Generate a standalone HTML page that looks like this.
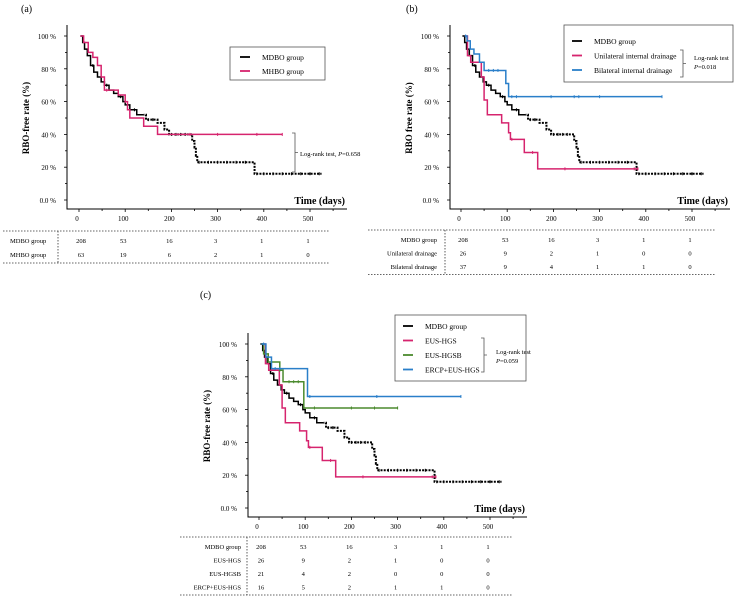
<!DOCTYPE html>
<html><head><meta charset="utf-8"><style>
html,body{margin:0;padding:0;background:#fff;}
svg{display:block;font-family:"Liberation Serif",serif;}
</style></head><body>
<svg id="fig" width="736" height="596" viewBox="0 0 736 596" xmlns="http://www.w3.org/2000/svg"></svg>
<script>
// ---- data ----
const tickDays = [0,100,200,300,400,500];
const tickPcts = [0,20,40,60,80,100];
const tickPctLabels = ["0.0 %","20 %","40 %","60 %","80 %","100 %"];
const mdboDays = [3,8,12,18,25,32,40,48,55,65,75,85,95,100,110,125,145,170,185,195,240,245,250,253,256,375,380,525];
const mdboPcts = [100,96,92,88,82,78,75,72,70,67,65,63,60,58,55,52,49,47,43,40,40,36,32,27,23,23,16,16];
const mdboCens = [30,60,90,120,150,160,200,210,220,230,260,280,300,320,340,360,385,400,420,440,460,480,500,520];
const mhboDays = [3,10,20,30,40,48,55,85,100,105,110,140,170,440];
const mhboPcts = [100,96,90,87,82,75,67,64,60,55,50,45,40,40];
const mhboCens = [60,100,240,300,385,440];
const uniDays = [8,14,21,44,50,57,88,103,107,137,166,383];
const uniPcts = [100,88,84,75,61,52,47,41,37,29,19,19];
const uniCens = [110,155,225,375,383];
const bilDays = [8,13,20,28,40,50,97,103,435];
const bilPcts = [100,97,92,89,84,79,71,63,63];
const bilCens = [10,60,70,80,110,120,195,245,255,300,435];
const hgsbDays = [5,10,20,45,52,97,300];
const hgsbPcts = [100,94,89,84,77,61,61];
const hgsbCens = [45,65,75,85,120,200,250,300];
const ercpDays = [5,15,27,105,437];
const ercpPcts = [100,92,85,68,68];
const ercpCens = [10,35,45,110,255,437];
const tableA = [["MDBO group",[208,53,16,3,1,1]],["MHBO group",[63,19,6,2,1,0]]];
const tableB = [["MDBO group",[208,53,16,3,1,1]],["Unilateral drainage",[26,9,2,1,0,0]],["Bilateral drainage",[37,9,4,1,1,0]]];
const tableC = [["MDBO group",[208,53,16,3,1,1]],["EUS-HGS",[26,9,2,1,0,0]],["EUS-HGSB",[21,4,2,0,0,0]],["ERCP+EUS-HGS",[16,5,2,1,1,0]]];

const NS="http://www.w3.org/2000/svg";
const svg=document.getElementById('fig');
function mk(tag,attrs,parent,txt){const e=document.createElementNS(NS,tag);for(const k in attrs)e.setAttribute(k,attrs[k]);if(txt!==undefined)e.textContent=txt;(parent||svg).appendChild(e);return e;}

const PINK="#d6246e",BLUE="#2a7fc9",GREEN="#4b8a2e";
const SOLID_UNTIL=140;

function panel(cfg){
  const g=mk('g',{});
  
  
  const X=d=>cfg.x0+0.462*d, Y=p=>cfg.y0-1.64*p;
  const lab=mk('text',{x:cfg.labX,y:cfg.labY,'font-size':10},g,cfg.label);
  
  
  const ax=mk('path',{d:`M${cfg.ax} ${cfg.top}V${cfg.bot}H${cfg.right}`,stroke:'#000','stroke-width':1,fill:'none'},g);
  
  
  for(let p=0;p<=100;p+=10){mk('line',{x1:cfg.ax-(p%20?2:3),x2:cfg.ax,y1:Y(p),y2:Y(p),stroke:'#000','stroke-width':0.8},g);}
  tickPcts.forEach((p,i)=>{const t=mk('text',{x:cfg.ax-11,y:Y(p)+3,'font-size':7,'text-anchor':'end'},g,tickPctLabels[i]);
    
    });
  for(let d=0;d<=550;d+=50){mk('line',{x1:X(d),x2:X(d),y1:cfg.bot,y2:cfg.bot+(d%100?2:3),stroke:'#000','stroke-width':0.8},g);}
  tickDays.forEach(d=>{const t=mk('text',{x:X(d)-2,y:cfg.bot+12,'font-size':7,'text-anchor':'middle'},g,String(d));
    
    });
  const yt=mk('text',{transform:`translate(${cfg.ax-38},${Y(50)}) rotate(-90)`,'font-size':9,'font-weight':'bold','text-anchor':'middle'},g,cfg.ytitle);
  
  
  const xt=mk('text',{x:cfg.right-2,y:cfg.bot-5,'font-size':10,'font-weight':'bold','text-anchor':'end'},g,'Time (days)');
  
  
  cfg.series.forEach(s=>{
    let d=`M${X(s.days[0])} ${Y(s.pcts[0])}`;
    for(let i=1;i<s.days.length;i++)d+=`H${X(s.days[i])}V${Y(s.pcts[i])}`;
    if(s.dotted){
      // solid early part (clipped) and dotted later part
      const cid=cfg.name+'-clip';
      const cp=mk('clipPath',{id:cid},g);
      mk('rect',{x:0,y:0,width:X(SOLID_UNTIL),height:596},cp);
      const cid2=cfg.name+'-clip2';
      const cp2=mk('clipPath',{id:cid2},g);
      mk('rect',{x:X(SOLID_UNTIL),y:0,width:736,height:596},cp2);
      const p1=mk('path',{d:d,stroke:s.color,'stroke-width':1.5,fill:'none','clip-path':`url(#${cid})`},g);
      
      
      const p2=mk('path',{d:d,stroke:s.color,'stroke-width':2,fill:'none','stroke-dasharray':'2 1.2','clip-path':`url(#${cid2})`},g);
      
      
    } else {
      const pth=mk('path',{d:d,stroke:s.color,'stroke-width':1.5,fill:'none'},g);
      
      
    }
    s.cens.forEach(c=>{
      let p=s.pcts[0];for(let i=0;i<s.days.length;i++){if(s.days[i]<=c)p=s.pcts[i];}
      const cm=mk('line',{x1:X(c),x2:X(c),y1:Y(p)-1.5,y2:Y(p)+1.5,stroke:s.color,'stroke-width':1},g);
      
      
    });
  });
  const L=cfg.legend;
  const lb=mk('rect',{x:L.x,y:L.y,width:L.w,height:L.h,fill:'#fff',stroke:'#555','stroke-width':0.8},g);
  
  
  cfg.series.forEach((s,i)=>{
    const yy=L.y+L.y0+i*L.dy;
    const ln=mk('line',{x1:L.x+L.lx,x2:L.x+L.lx+10,y1:yy,y2:yy,stroke:s.color,'stroke-width':1.8},g);
    
    
    const t=mk('text',{x:L.x+L.tx,y:yy+3,'font-size':7.5},g,s.label);
    
    
  });
  const R=cfg.rank;
  const br=mk('path',{d:`M${R.bx-3} ${R.y1}H${R.bx}V${R.y2}H${R.bx-3}M${R.bx} ${(R.y1+R.y2)/2}H${R.bx+3}`,stroke:'#555','stroke-width':0.8,fill:'none'},g);
  
  
  R.lines.forEach((ln,i)=>{
    const t=mk('text',{x:R.tx,y:R.ty+i*9,'font-size':6.5},g);
    
    
    ln.forEach(part=>{mk('tspan',part[1]?{'font-style':'italic'}:{},t,part[0]);});
  });
  const T=cfg.table;
  const tg=mk('g',{},g);
  
  
  const bottom=T.top+T.rows.length*T.dy+4;
  mk('line',{x1:T.x1,x2:T.x2,y1:T.top,y2:T.top,stroke:'#333','stroke-width':0.8,'stroke-dasharray':'1.5 1.5'},tg);
  mk('line',{x1:T.x1,x2:T.x2,y1:bottom,y2:bottom,stroke:'#333','stroke-width':0.8,'stroke-dasharray':'1.5 1.5'},tg);
  mk('line',{x1:T.vx,x2:T.vx,y1:T.top,y2:bottom,stroke:'#333','stroke-width':0.8,'stroke-dasharray':'1.5 1.5'},tg);
  T.rows.forEach((r,i)=>{
    const yy=T.top+T.dy*(i+0.5)+5;
    const lt=mk('text',{x:T.lx,y:yy,'font-size':6.5,'text-anchor':T.anchor},tg,r[0]);
    
    
    r[1].forEach((v,j)=>{const vt=mk('text',{x:X(tickDays[j])+(j===0?2:-2),y:yy,'font-size':6.5,'text-anchor':'middle'},tg,String(v));
      
      });
  });
}
const mdbo={key:'mdbo',label:'MDBO group',color:'#000',dotted:true,days:mdboDays,pcts:mdboPcts,cens:mdboCens};
panel({name:'panel-a',label:'(a)',labX:21,labY:12,x0:79,y0:200,ax:67,top:25,bot:209,right:347,ytitle:'RBO-free rate (%)',
  series:[mdbo,{key:'mhbo',label:'MHBO group',color:PINK,days:mhboDays,pcts:mhboPcts,cens:mhboCens}],
  legend:{x:230,y:47,w:95,h:33,y0:10,dy:14,lx:10,tx:32},
  rank:{bx:295,y1:133,y2:172,tx:300,ty:156,lines:[[["Log-rank test, ",0],["P",1],["=0.658",0]]]},
  table:{top:231,dy:14,x1:3,x2:330,vx:58,lx:10,anchor:'start',rows:tableA}});
panel({name:'panel-b',label:'(b)',labX:406,labY:12,x0:461,y0:200,ax:450,top:25,bot:209,right:730,ytitle:'RBO free rate (%)',
  series:[mdbo,{key:'unilateral',label:'Unilateral internal drainage',color:PINK,days:uniDays,pcts:uniPcts,cens:uniCens},
    {key:'bilateral',label:'Bilateral internal drainage',color:BLUE,days:bilDays,pcts:bilPcts,cens:bilCens}],
  legend:{x:564,y:25,w:169,h:57,y0:16,dy:14.5,lx:8,tx:30},
  rank:{bx:683,y1:50,y2:77,tx:694,ty:60,lines:[[["Log-rank test",0]],[["P",1],["=0.018",0]]]},
  table:{top:230,dy:13.5,x1:368,x2:715,vx:445,lx:437,anchor:'end',rows:tableB}});
panel({name:'panel-c',label:'(c)',labX:200,labY:298,x0:259,y0:508,ax:248,top:333,bot:517,right:527,ytitle:'RBO-free rate (%)',
  series:[mdbo,{key:'eus-hgs',label:'EUS-HGS',color:PINK,days:uniDays,pcts:uniPcts,cens:uniCens},
    {key:'eus-hgsb',label:'EUS-HGSB',color:GREEN,days:hgsbDays,pcts:hgsbPcts,cens:hgsbCens},
    {key:'ercp-eus-hgs',label:'ERCP+EUS-HGS',color:BLUE,days:ercpDays,pcts:ercpPcts,cens:ercpCens}],
  legend:{x:395,y:315,w:131,h:66,y0:11,dy:14.5,lx:8,tx:30},
  rank:{bx:484,y1:338,y2:372,tx:496,ty:354,lines:[[["Log-rank test",0]],[["P",1],["=0.059",0]]]},
  table:{top:537,dy:13.5,x1:180,x2:512,vx:247,lx:241,anchor:'end',rows:tableC}});
</script>
</body></html>
